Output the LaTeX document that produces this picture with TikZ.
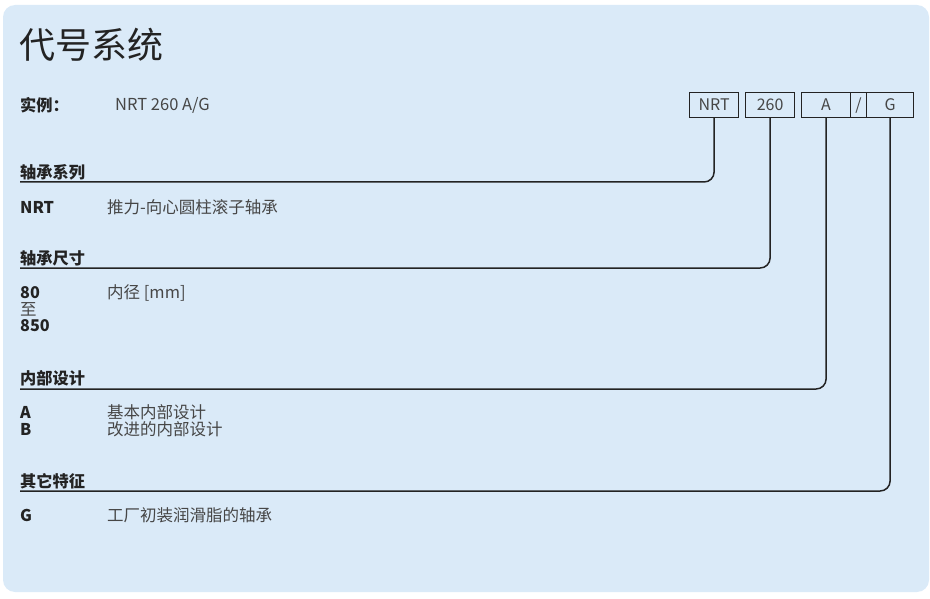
\documentclass[tikz,border=0pt]{standalone}
\usepackage{fontspec}
\setmainfont{Noto Sans CJK SC}
\definecolor{panel}{RGB}{218,234,248}
\definecolor{ink}{RGB}{35,35,35}
\definecolor{body}{RGB}{70,70,70}
\tikzset{
  head/.style={anchor=west, inner sep=0pt, font=\fontsize{16.2}{18}\selectfont\bfseries, text=ink},
  desc/.style={anchor=west, inner sep=0pt, font=\fontsize{16.5}{18}\selectfont, text=body},
  codebox/.style={draw=ink, line width=1.2pt, anchor=north west, inner sep=0pt,
    minimum height=25pt, font=\fontsize{16}{18}\selectfont, text=body},
  lead/.style={draw=ink, line width=1.5pt, rounded corners=10pt}
}
\begin{document}
\begin{tikzpicture}[x=1pt, y=-1pt]
  \useasboundingbox (0,0) rectangle (930,599);
  \fill[panel, rounded corners=12pt] (3,5) rectangle (929,592);

  % title and example
  \node[anchor=west, inner sep=0pt, font=\fontsize{36}{40}\selectfont, text=ink] (title) at (19,45) {代号系统};
  \node[head] (ex) at (20,105) {实例：};
  \node[desc] (exval) at (115,105) {NRT 260 A/G};

  % code boxes
  \node[codebox, minimum width=49pt] (nrt) at (689,92) {NRT};
  \node[codebox, minimum width=49pt] (size) at (745,92) {260};
  \node[codebox, minimum width=49pt] (des) at (801,92) {A};
  \node[codebox, minimum width=16pt] (sl) at (850,92) {/};
  \node[codebox, minimum width=47pt] (feat) at (866,92) {G};

  % line ends
  \coordinate (l1) at (20,182);
  \coordinate (l2) at (20,268);
  \coordinate (l3) at (20,389);
  \coordinate (l4) at (20,491);
  \draw[lead] (nrt.south) |- (l1);
  \draw[lead] (size.south) |- (l2);
  \draw[lead] (des.south) |- (l3);
  \draw[lead] (feat.south) |- (l4);

  % series
  \node[head] (h1) at (20,172) {轴承系列};
  \node[head] (k1) at (20,207) {NRT};
  \node[desc] (d1) at (107,207) {推力-向心圆柱滚子轴承};

  % size
  \node[head] (h2) at (20,258) {轴承尺寸};
  \node[head] (k2a) at (20,293) {80};
  \node[desc] (k2b) at (20,309) {至};
  \node[head] (k2c) at (20,326) {850};
  \node[desc] (d2) at (107,293) {内径 [mm]};

  % design
  \node[head] (h3) at (20,378) {内部设计};
  \node[head] (k3a) at (20,412) {A};
  \node[head] (k3b) at (20,429) {B};
  \node[desc] (d3a) at (107,412) {基本内部设计};
  \node[desc] (d3b) at (107,429) {改进的内部设计};

  % features
  \node[head] (h4) at (20,481) {其它特征};
  \node[head] (k4) at (20,515) {G};
  \node[desc] (d4) at (107,515) {工厂初装润滑脂的轴承};
\end{tikzpicture}
\end{document}
